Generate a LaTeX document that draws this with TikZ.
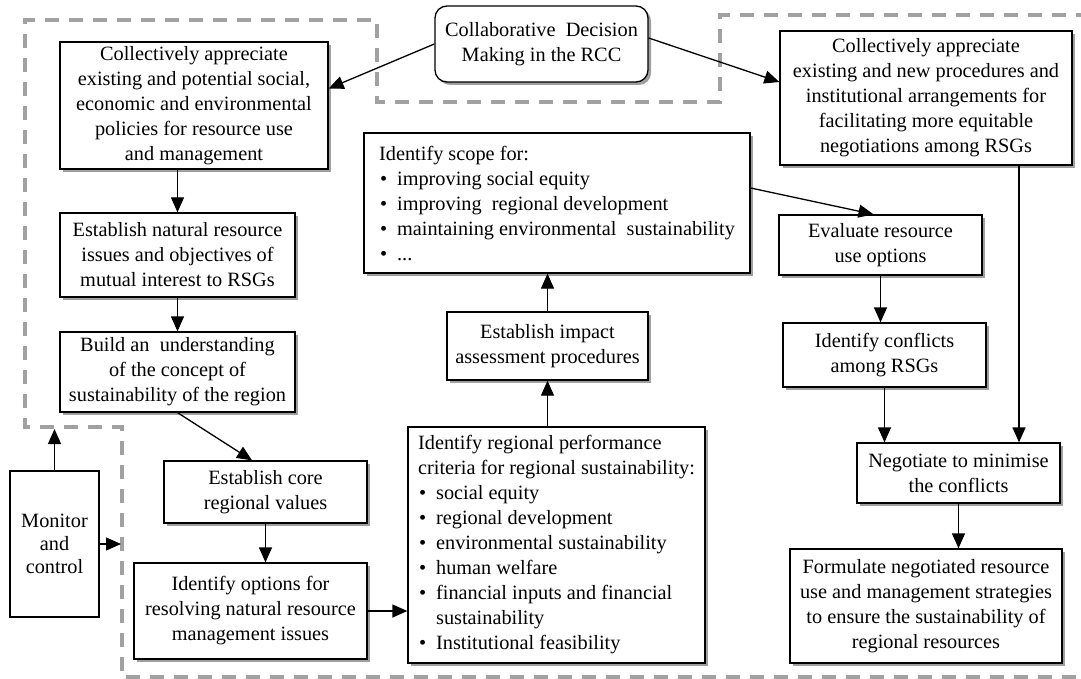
\documentclass[tikz,border=0pt]{standalone}
\usepackage{fontspec}
\setmainfont{Liberation Serif}
\usetikzlibrary{arrows.meta,shadows}

% bullet with a fixed indent for the list boxes
\newcommand{\bul}{\makebox[18pt][l]{\hspace{1pt}•}}

\begin{document}
\begin{tikzpicture}[x=1pt,y=-1pt,
  font=\fontsize{20.3}{25}\selectfont,
  plainbox/.style={draw=black, line width=1.3pt, fill=white, inner sep=2pt, align=center},
  box/.style={plainbox,
    drop shadow={shadow xshift=3pt, shadow yshift=-3pt, fill=black!50, opacity=0.75}},
  listbox/.style={box, align=left},
  arr/.style={line width=1.3pt, -{Triangle[length=15pt,width=13pt]}},
  region/.style={draw=black!37, line width=4pt, dash pattern=on 14pt off 10pt},
]
\useasboundingbox (0,0) rectangle (1081,679);
\fill[white] (0,0) rectangle (1081,679);

% boundary of the collaborative planning region
\draw[region] (1090,15) -- (720,15) -- (720,102) -- (377,102) -- (377,20)
  -- (25,20) -- (25,427) -- (122,427) -- (122,677) -- (1090,677);

% central decision node
\node[box, rounded corners=12pt, minimum width=213pt, minimum height=76pt]
  (rcc) at (541.5,44) {Collaborative~ Decision\\Making in the RCC};

% left column
\node[box, minimum width=268pt, minimum height=127pt] (app) at (194,105.5)
  {Collectively appreciate\\existing and potential social,\\economic and environmental\\policies for resource use\\and management};
\node[box, minimum width=235pt, minimum height=84pt] (issues) at (177.5,255)
  {Establish natural resource\\issues and objectives of\\mutual interest to RSGs};
\node[box, minimum width=235pt, minimum height=80pt] (build) at (177.5,372)
  {Build an~ understanding\\of the concept of\\sustainability of the region};
\node[box, minimum width=203pt, minimum height=62pt] (core) at (265.5,492)
  {Establish core\\regional values};
\node[box, minimum width=233pt, minimum height=96pt] (opts) at (250.5,611)
  {Identify options for\\resolving natural resource\\management issues};
\node[plainbox, minimum width=89pt, minimum height=146pt,
  font=\fontsize{20.3}{23}\selectfont] (mon) at (54.5,544)
  {Monitor\\and\\control};

% middle column
\node[listbox, minimum width=386pt, minimum height=140pt] (scope) at (557,203)
  {Identify scope for:\\
   \bul improving social equity\\
   \bul improving~ regional development\\
   \bul maintaining environmental~ sustainability\\
   \bul ...};
\node[box, minimum width=201pt, minimum height=68pt] (impact) at (547.5,346)
  {Establish impact\\assessment procedures};
\node[listbox, minimum width=297pt, minimum height=236pt] (crit) at (556.5,545)
  {Identify regional performance\\
   criteria for regional sustainability:\\
   \bul social equity\\
   \bul regional development\\
   \bul environmental sustainability\\
   \bul human welfare\\
   \bul financial inputs and financial\\
   \hspace*{18pt}sustainability\\
   \bul Institutional feasibility};

% right column
\node[box, minimum width=292pt, minimum height=134pt] (proc) at (926,98)
  {Collectively appreciate\\existing and new procedures and\\institutional arrangements for\\facilitating more equitable\\negotiations among RSGs};
\node[box, minimum width=203pt, minimum height=60pt] (eval) at (880.5,245)
  {Evaluate resource\\use options};
\node[box, minimum width=203pt, minimum height=64pt] (confl) at (884.5,355)
  {Identify conflicts\\among RSGs};
\node[box, minimum width=203pt, minimum height=60pt] (neg) at (958.5,473)
  {Negotiate to minimise\\the conflicts};
\node[box, minimum width=272pt, minimum height=114pt] (form) at (926,606)
  {Formulate negotiated resource\\use and management strategies\\to ensure the sustainability of\\regional resources};

% free ends of the monitoring arrows on the region boundary
\coordinate (monup) at (54.5,429);
\coordinate (monright) at (121,544);

% connectors
\draw[arr] (rcc.west) -- ([yshift=17pt]app.east);
\draw[arr] ([yshift=6pt]rcc.east) -- ([yshift=16pt]proc.west);
\draw[arr] (issues.north |- app.south) -- (issues.north);
\draw[arr] (issues.south) -- (build.north);
\draw[arr] (build.south) -- ([xshift=-13.5pt]core.north);
\draw[arr] (core.south) -- (core.south |- opts.north);
\draw[arr] (opts.east) -- (opts.east -| crit.west);
\draw[arr] (impact.south |- crit.north) -- (impact.south);
\draw[arr] (impact.north) -- (impact.north |- scope.south);
\draw[arr] ([yshift=15pt]scope.east) -- ([xshift=-7pt]eval.north);
\draw[arr] (eval.south) -- (eval.south |- confl.north);
\draw[arr] (confl.south) -- (confl.south |- neg.north);
\draw[arr] ([xshift=93pt]proc.south) -- ([xshift=93pt]proc.south |- neg.north);
\draw[arr] (neg.south) -- (neg.south |- form.north);
\draw[arr] (mon.north) -- (monup);
\draw[arr] (mon.east) -- (monright);
\end{tikzpicture}
\end{document}
